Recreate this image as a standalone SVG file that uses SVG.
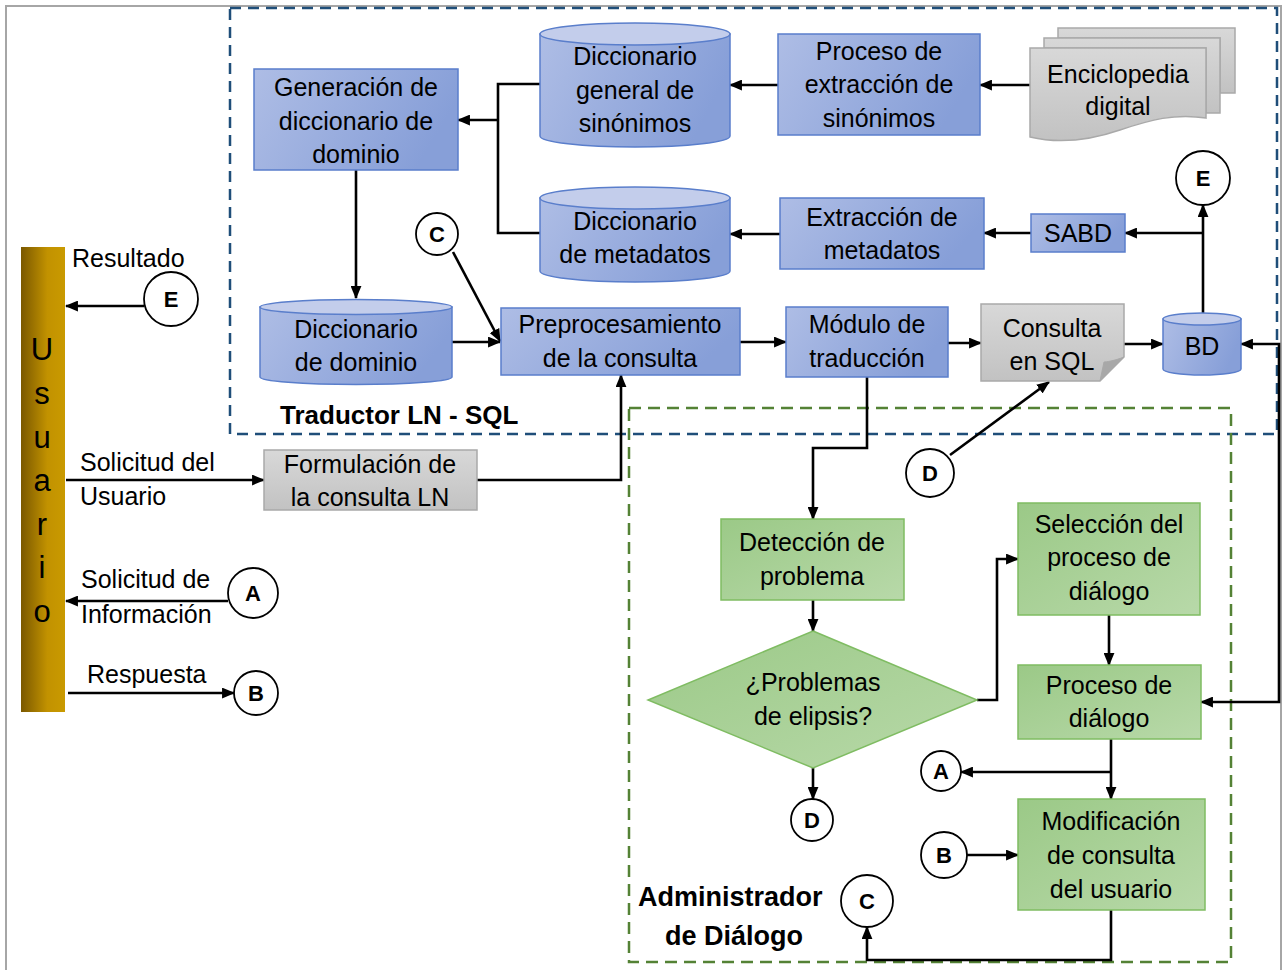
<svg xmlns="http://www.w3.org/2000/svg" width="1285" height="970" viewBox="0 0 1285 970">
  <defs>
    <linearGradient id="gBlue" x1="0" y1="0" x2="1" y2="0.3">
      <stop offset="0" stop-color="#aebde5"/>
      <stop offset="1" stop-color="#879fd8"/>
    </linearGradient>
    <linearGradient id="gGray" x1="0" y1="0" x2="0" y2="1">
      <stop offset="0" stop-color="#d8d8d8"/>
      <stop offset="1" stop-color="#c2c2c2"/>
    </linearGradient>
    <linearGradient id="gGreen" x1="0" y1="0" x2="1" y2="1">
      <stop offset="0" stop-color="#9bc987"/>
      <stop offset="1" stop-color="#b8d9a9"/>
    </linearGradient>
    <linearGradient id="gUser" x1="0" y1="0" x2="1" y2="0">
      <stop offset="0" stop-color="#7a5800"/>
      <stop offset="0.6" stop-color="#c29200"/>
      <stop offset="1" stop-color="#c99a00"/>
    </linearGradient>
    <marker id="arrow" viewBox="0 0 12 10" refX="11" refY="5" markerWidth="13" markerHeight="11" markerUnits="userSpaceOnUse" orient="auto-start-reverse">
      <path d="M0,0 L12,5 L0,10 Z" fill="#000"/>
    </marker>
  </defs>
  <style>
    text { font-family: "Liberation Sans", Arial, sans-serif; fill: #000; }
    .t { font-size: 25px; text-anchor: middle; }
    .l { font-size: 25px; }
    .lab { font-size: 26px; font-weight: bold; }
    .cl { font-size: 22px; font-weight: bold; text-anchor: middle; }
    .us { font-size: 31px; text-anchor: middle; }
    .blue { fill: url(#gBlue); stroke: #5a7ecb; stroke-width: 1.5; }
    .top { fill: #c3cdeb; stroke: #5a7ecb; stroke-width: 1.5; }
    .gray { fill: url(#gGray); stroke: #a9a9a9; stroke-width: 1.5; }
    .green { fill: url(#gGreen); stroke: #7fbc62; stroke-width: 1.5; }
    .circ { fill: #fff; stroke: #000; stroke-width: 1.8; }
    .c { fill: none; stroke: #000; stroke-width: 2.6; }
    .ca { fill: none; stroke: #000; stroke-width: 2.6; marker-end: url(#arrow); }
    .cb { fill: none; stroke: #000; stroke-width: 2.6; marker-start: url(#arrow); marker-end: url(#arrow); }
  </style>

  <rect width="1285" height="970" fill="#fff"/>
  <!-- frame -->
  <rect x="6" y="6" width="1275" height="980" fill="none" stroke="#a6a6a6" stroke-width="2"/>

  <!-- group outlines -->
  <g id="grupo-traductor">
    <rect x="230" y="8" width="1047" height="426" fill="none" stroke="#1f4e79" stroke-width="2.5" stroke-dasharray="11 7"/>
    <text class="lab" x="280" y="424">Traductor LN - SQL</text>
  </g>
  <g id="grupo-administrador">
    <rect x="629" y="408" width="602" height="554" fill="none" stroke="#548235" stroke-width="2.5" stroke-dasharray="12 7"/>
    <text class="lab" x="638" y="906" style="font-size:27px">Administrador</text>
    <text class="lab" x="665" y="945" style="font-size:27px">de Diálogo</text>
  </g>

  <!-- connectors -->
  <g id="connectors">
    <path class="c" d="M540,84 H498 V233 H540"/>
    <path class="ca" d="M498,120 H458"/>
    <path class="ca" d="M778,85 H730"/>
    <path class="ca" d="M1030,85 H980"/>
    <path class="ca" d="M780,234 H730"/>
    <path class="ca" d="M1031,233 H984"/>
    <path class="ca" d="M1203,313 V205"/>
    <path class="ca" d="M1203,233 H1125"/>
    <path class="ca" d="M356,170 V298"/>
    <path class="ca" d="M452,342 H500"/>
    <path class="ca" d="M453,252 L500,341"/>
    <path class="ca" d="M740,342 H786"/>
    <path class="ca" d="M948,343 H981"/>
    <path class="ca" d="M1124,344 H1163"/>
    <path class="cb" d="M1241,344 H1279 V702 H1201"/>
    <path class="ca" d="M477,480 H621 V375"/>
    <path class="ca" d="M66,480 H264"/>
    <path class="ca" d="M144,306 H66"/>
    <path class="ca" d="M228,601 H66"/>
    <path class="ca" d="M68,693 H234"/>
    <path class="ca" d="M867,377 V448 H813 V519"/>
    <path class="ca" d="M950,455 L1049,382"/>
    <path class="ca" d="M813,600 V631"/>
    <path class="ca" d="M813,768 V799"/>
    <path class="ca" d="M977,700 H997 V559 H1018"/>
    <path class="ca" d="M1109,615 V665"/>
    <path class="ca" d="M1111,739 V799"/>
    <path class="ca" d="M1111,772 H961"/>
    <path class="ca" d="M967,855 H1018"/>
    <path class="ca" d="M1111,910 V960 H867 V927"/>
  </g>

  <!-- user column -->
  <g id="usuario">
    <rect x="21" y="247" width="44" height="465" fill="url(#gUser)"/>
    <text class="us" x="42" y="360">U</text>
    <text class="us" x="42" y="404">s</text>
    <text class="us" x="42" y="448">u</text>
    <text class="us" x="42" y="491">a</text>
    <text class="us" x="42" y="535">r</text>
    <text class="us" x="42" y="578">i</text>
    <text class="us" x="42" y="622">o</text>
  </g>
  <g id="etiquetas-usuario">
    <text class="l" x="72" y="267">Resultado</text>
    <text class="l" x="80" y="471">Solicitud del</text>
    <text class="l" x="80" y="505">Usuario</text>
    <text class="l" x="81" y="588">Solicitud de</text>
    <text class="l" x="81" y="623">Información</text>
    <text class="l" x="87" y="683">Respuesta</text>
  </g>

  <!-- translator nodes -->
  <g id="generacion-diccionario">
    <rect class="blue" x="254" y="69" width="204" height="101"/>
    <text class="t" x="356" y="96">Generación  de</text>
    <text class="t" x="356" y="130">diccionario de</text>
    <text class="t" x="356" y="163">dominio</text>
  </g>
  <g id="diccionario-general">
    <path class="blue" d="M540,34 V136 A95,11 0 0 0 730,136 V34 Z"/>
    <ellipse class="top" cx="635" cy="34" rx="95" ry="11"/>
    <text class="t" x="635" y="65">Diccionario</text>
    <text class="t" x="635" y="99">general de</text>
    <text class="t" x="635" y="132">sinónimos</text>
  </g>
  <g id="proceso-extraccion">
    <rect class="blue" x="778" y="34" width="202" height="101"/>
    <text class="t" x="879" y="60">Proceso de</text>
    <text class="t" x="879" y="93">extracción de</text>
    <text class="t" x="879" y="127">sinónimos</text>
  </g>
  <g id="enciclopedia">
    <path class="gray" d="M1058,28 H1235 V93 H1220 V38 H1058 Z"/>
    <path class="gray" d="M1044,38 H1220 V113 H1206 V48 H1044 Z"/>
    <path class="gray" d="M1030,48 H1206 V118 C1175,113 1150,120 1120,130 C1085,142 1055,143 1030,137 Z"/>
    <text class="t" x="1118" y="83">Enciclopedia</text>
    <text class="t" x="1118" y="115">digital</text>
  </g>
  <g id="diccionario-metadatos">
    <path class="blue" d="M540,198 V271 A95,11 0 0 0 730,271 V198 Z"/>
    <ellipse class="top" cx="635" cy="198" rx="95" ry="11"/>
    <text class="t" x="635" y="230">Diccionario</text>
    <text class="t" x="635" y="263">de metadatos</text>
  </g>
  <g id="extraccion-metadatos">
    <rect class="blue" x="780" y="198" width="204" height="71"/>
    <text class="t" x="882" y="226">Extracción de</text>
    <text class="t" x="882" y="259">metadatos</text>
  </g>
  <g id="sabd">
    <rect class="blue" x="1031" y="214" width="94" height="38"/>
    <text class="t" x="1078" y="242">SABD</text>
  </g>
  <g id="conector-e-superior">
    <circle class="circ" cx="1203" cy="178" r="27"/>
    <text class="cl" x="1203" y="186">E</text>
  </g>
  <g id="conector-c-superior">
    <circle class="circ" cx="437" cy="234" r="21"/>
    <text class="cl" x="437" y="242">C</text>
  </g>
  <g id="diccionario-dominio">
    <path class="blue" d="M260,307 V377 A96,7.5 0 0 0 452,377 V307 Z"/>
    <ellipse class="top" cx="356" cy="307" rx="96" ry="7.5"/>
    <text class="t" x="356" y="338">Diccionario</text>
    <text class="t" x="356" y="371">de dominio</text>
  </g>
  <g id="preprocesamiento">
    <rect class="blue" x="501" y="308" width="239" height="67"/>
    <text class="t" x="620" y="333">Preprocesamiento</text>
    <text class="t" x="620" y="367">de la consulta</text>
  </g>
  <g id="modulo-traduccion">
    <rect class="blue" x="786" y="307" width="162" height="70"/>
    <text class="t" x="867" y="333">Módulo de</text>
    <text class="t" x="867" y="367">traducción</text>
  </g>
  <g id="consulta-sql">
    <path class="gray" d="M981,304 H1124 V357 L1100,381 H981 Z"/>
    <path d="M1100,381 L1124,357 C1114,361 1106,362 1104,362 Z" fill="#a8a8a8" stroke="#a9a9a9" stroke-width="1"/>
    <text class="t" x="1052" y="337">Consulta</text>
    <text class="t" x="1052" y="370">en SQL</text>
  </g>
  <g id="bd">
    <path class="blue" d="M1163,319 V369 A39,6 0 0 0 1241,369 V319 Z"/>
    <ellipse class="top" cx="1202" cy="319" rx="39" ry="6"/>
    <text class="t" x="1202" y="355">BD</text>
  </g>
  <g id="formulacion">
    <rect class="gray" x="264" y="450" width="213" height="60"/>
    <text class="t" x="370" y="473">Formulación de</text>
    <text class="t" x="370" y="506">la consulta LN</text>
  </g>
  <g id="conector-e-usuario">
    <circle class="circ" cx="171" cy="299" r="27"/>
    <text class="cl" x="171" y="307">E</text>
  </g>
  <g id="conector-a-usuario">
    <circle class="circ" cx="253" cy="593" r="25"/>
    <text class="cl" x="253" y="601">A</text>
  </g>
  <g id="conector-b-usuario">
    <circle class="circ" cx="256" cy="693" r="22"/>
    <text class="cl" x="256" y="701">B</text>
  </g>

  <!-- dialogue manager nodes -->
  <g id="deteccion-problema">
    <rect class="green" x="721" y="519" width="183" height="81"/>
    <text class="t" x="812" y="551">Detección de</text>
    <text class="t" x="812" y="585">problema</text>
  </g>
  <g id="problemas-elipsis">
    <path class="green" d="M813,631 L977,700 L813,768 L648,700 Z"/>
    <text class="t" x="813" y="691">¿Problemas</text>
    <text class="t" x="813" y="725">de elipsis?</text>
  </g>
  <g id="conector-d-inferior">
    <circle class="circ" cx="812" cy="820" r="21"/>
    <text class="cl" x="812" y="828">D</text>
  </g>
  <g id="conector-d-superior">
    <circle class="circ" cx="930" cy="473" r="24"/>
    <text class="cl" x="930" y="481">D</text>
  </g>
  <g id="seleccion-proceso">
    <rect class="green" x="1018" y="503" width="182" height="112"/>
    <text class="t" x="1109" y="533">Selección del</text>
    <text class="t" x="1109" y="566">proceso de</text>
    <text class="t" x="1109" y="600">diálogo</text>
  </g>
  <g id="proceso-dialogo">
    <rect class="green" x="1018" y="665" width="183" height="74"/>
    <text class="t" x="1109" y="694">Proceso de</text>
    <text class="t" x="1109" y="727">diálogo</text>
  </g>
  <g id="conector-a-dialogo">
    <circle class="circ" cx="941" cy="771" r="20"/>
    <text class="cl" x="941" y="779">A</text>
  </g>
  <g id="modificacion-consulta">
    <rect class="green" x="1018" y="799" width="187" height="111"/>
    <text class="t" x="1111" y="830">Modificación</text>
    <text class="t" x="1111" y="864">de consulta</text>
    <text class="t" x="1111" y="898">del usuario</text>
  </g>
  <g id="conector-b-dialogo">
    <circle class="circ" cx="944" cy="855" r="23"/>
    <text class="cl" x="944" y="863">B</text>
  </g>
  <g id="conector-c-dialogo">
    <circle class="circ" cx="867" cy="901" r="26"/>
    <text class="cl" x="867" y="909">C</text>
  </g>
</svg>
